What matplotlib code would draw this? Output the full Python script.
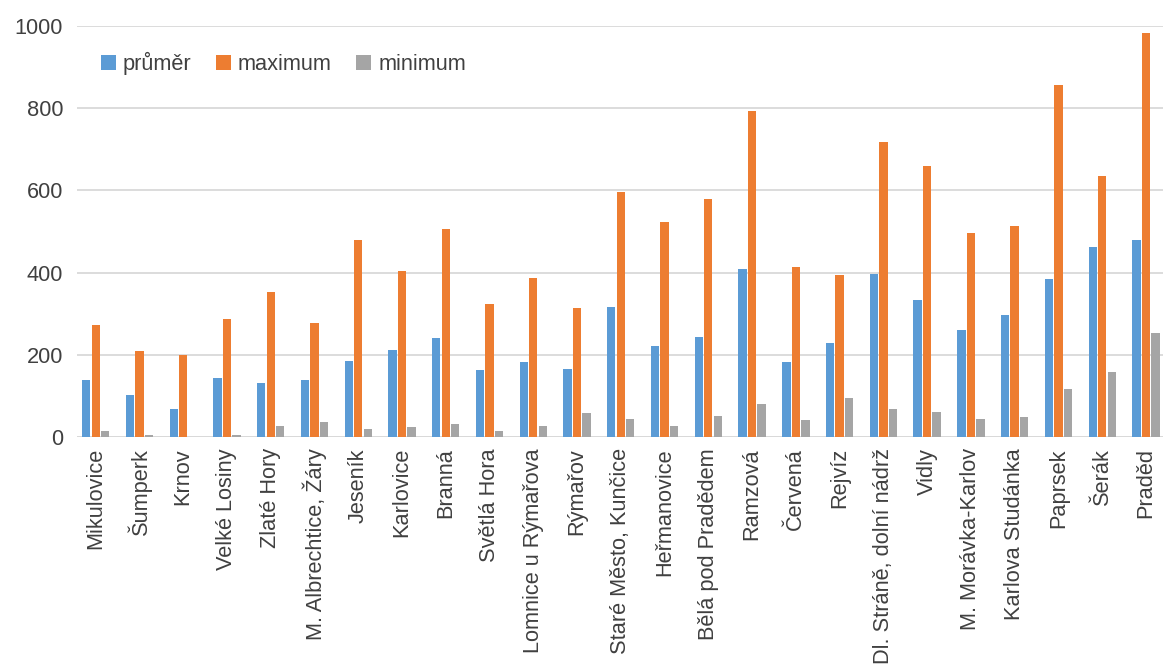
import matplotlib
matplotlib.use("Agg")
import matplotlib.pyplot as plt
from matplotlib.patches import Patch
from matplotlib.transforms import ScaledTranslation
import numpy as np

stations = [
    "Mikulovice", "Šumperk", "Krnov", "Velké Losiny", "Zlaté Hory",
    "M. Albrechtice, Žáry", "Jeseník", "Karlovice", "Branná", "Světlá Hora",
    "Lomnice u Rýmařova", "Rýmařov", "Staré Město, Kunčice", "Heřmanovice",
    "Bělá pod Pradědem", "Ramzová", "Červená", "Rejvíz", "Dl. Stráně, dolní nádrž",
    "Vidly", "M. Morávka-Karlov", "Karlova Studánka", "Paprsek", "Šerák", "Praděd",
]
prumer = [138, 101, 67, 143, 131, 138, 184, 211, 240, 162, 182, 165, 316,
          221, 243, 408, 182, 228, 396, 333, 260, 296, 384, 462, 479]
maximum = [272, 209, 199, 287, 352, 277, 479, 403, 506, 323, 386, 313, 596,
           523, 579, 793, 413, 394, 718, 659, 496, 513, 856, 635, 983]
minimum = [14, 6, 0, 6, 26, 36, 19, 24, 31, 14, 26, 58, 43,
           26, 50, 80, 41, 94, 67, 60, 43, 48, 116, 157, 252]

series_names = ["průměr", "maximum", "minimum"]
colors = ["#5B9BD5", "#ED7D31", "#A5A5A5"]
yticks = [0, 200, 400, 600, 800, 1000]

plt.rcParams["font.family"] = ["Liberation Sans", "DejaVu Sans"]
text_color = "#404040"
fs = 15.7

W, H = 1163, 664
fig = plt.figure(figsize=(W / 100, H / 100), dpi=100)
ax = fig.add_axes([77 / W, (H - 437) / H, (W - 77) / W, 411 / H])

x = np.arange(len(stations))
bar_w = 0.19
step = 0.217
for i, (vals, col) in enumerate(zip([prumer, maximum, minimum], colors)):
    ax.bar(x + (i - 1) * step, vals, width=bar_w, color=col, zorder=3, linewidth=0)

ax.set_ylim(0, 1000)
ax.set_xlim(-0.427, 24.39)
ax.set_yticks(yticks)
ax.set_yticklabels([str(v) for v in yticks], fontsize=fs, color=text_color)
ax.set_xticks(x)
ax.set_xticklabels(stations, rotation=90, fontsize=fs, color=text_color,
                   ha="center", va="top")
# nudge the rotated category labels slightly to the left
shift = ScaledTranslation(-4 / 100, 0, fig.dpi_scale_trans)
for lbl in ax.get_xticklabels():
    lbl.set_transform(lbl.get_transform() + shift)
ax.tick_params(axis="both", length=0)
ax.tick_params(axis="y", pad=9.9)
ax.tick_params(axis="x", pad=8)
ax.yaxis.grid(True, color="#D9D9D9", linewidth=1.3, zorder=0)
ax.set_axisbelow(True)
for s in ax.spines.values():
    s.set_visible(False)
ax.axhline(0, color="#D9D9D9", linewidth=1.3, zorder=2)

handles = [Patch(facecolor=c, edgecolor="none") for c in colors]
fig.legend(handles, series_names, loc="center left",
           bbox_to_anchor=(101 / W, 1 - 63.5 / H), ncol=3, frameon=False,
           fontsize=fs, labelcolor=text_color, handlelength=0.69,
           handleheight=0.69, handletextpad=0.31, columnspacing=1.13,
           borderpad=0, borderaxespad=0)

fig.savefig("out.png", dpi=100)
